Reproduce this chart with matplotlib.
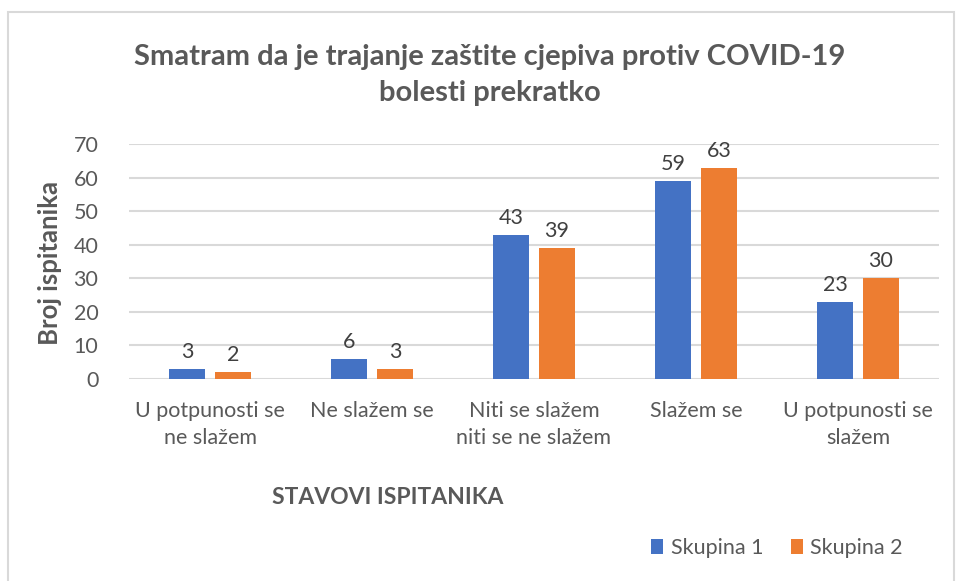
import numpy as np
import matplotlib
matplotlib.use("Agg")
import matplotlib.pyplot as plt
from matplotlib.patches import Rectangle

plt.rcParams['font.family'] = ['Lato', 'DejaVu Sans']

categories = ["U potpunosti se\nne slažem", "Ne slažem se", "Niti se slažem\nniti se ne slažem",
              "Slažem se", "U potpunosti se\nslažem"]
skupina1 = [3, 6, 43, 59, 23]
skupina2 = [2, 3, 39, 63, 30]
series_names = ["Skupina 1", "Skupina 2"]
yticks = [0, 10, 20, 30, 40, 50, 60, 70]

blue = "#4472C4"
orange = "#ED7D31"
txt = "#595959"

fig = plt.figure(figsize=(9.56, 5.81), dpi=100)
fig.patches.append(Rectangle((8 / 956, -10 / 581), 946 / 956, 579 / 581, transform=fig.transFigure,
                             fill=False, edgecolor="#d9d9d9", lw=1.5))

ax = fig.add_axes([129 / 956, 1 - 379 / 581, 810 / 956, 235 / 581])
x = np.arange(len(categories))
w = 0.222
off = 0.142
b1 = ax.bar(x - off, skupina1, w, color=blue, label=series_names[0], zorder=3)
b2 = ax.bar(x + off, skupina2, w, color=orange, label=series_names[1], zorder=3)

for bars, vals in ((b1, skupina1), (b2, skupina2)):
    for r, v in zip(bars, vals):
        ax.annotate(str(v), (r.get_x() + r.get_width() / 2, v), xytext=(0, 5),
                    textcoords="offset points", ha="center", va="bottom",
                    fontsize=15.5, color="#404040")

ax.set_xlim(-0.5, len(categories) - 0.5)
ax.set_ylim(0, 70)
ax.set_yticks(yticks)
ax.yaxis.grid(True, color="#d9d9d9", lw=1.5, zorder=0)
ax.set_axisbelow(True)
for s in ax.spines.values():
    s.set_visible(False)
ax.tick_params(length=0)
ax.tick_params(axis="y", labelsize=15.5, labelcolor=txt, pad=22)
ax.set_xticks(x)
ax.set_xticklabels(categories, fontsize=15.5, color=txt, linespacing=1.45)
ax.tick_params(axis="x", pad=16)

fig.text(490 / 956, 1 - 75 / 581, "Smatram da je trajanje zaštite cjepiva protiv COVID-19\nbolesti prekratko",
         ha="center", va="center", fontsize=21, fontweight="bold", color=txt, linespacing=1.52)
fig.text(50 / 956, 1 - 263 / 581, "Broj ispitanika", rotation=90, ha="center", va="center",
         fontsize=18.5, fontweight="bold", color=txt)
fig.text(388 / 956, 1 - 497 / 581, "STAVOVI ISPITANIKA", ha="center", va="center",
         fontsize=16.5, fontweight="bold", color=txt)

fig.legend(handles=[b1, b2], labels=series_names, loc="center", ncol=2,
           bbox_to_anchor=(777 / 956, 1 - 548 / 581), frameon=False, fontsize=15.5,
           handlelength=0.55, handleheight=0.7, handletextpad=0.35, columnspacing=1.3,
           labelcolor=txt)

fig.savefig("out.png", dpi=100)
